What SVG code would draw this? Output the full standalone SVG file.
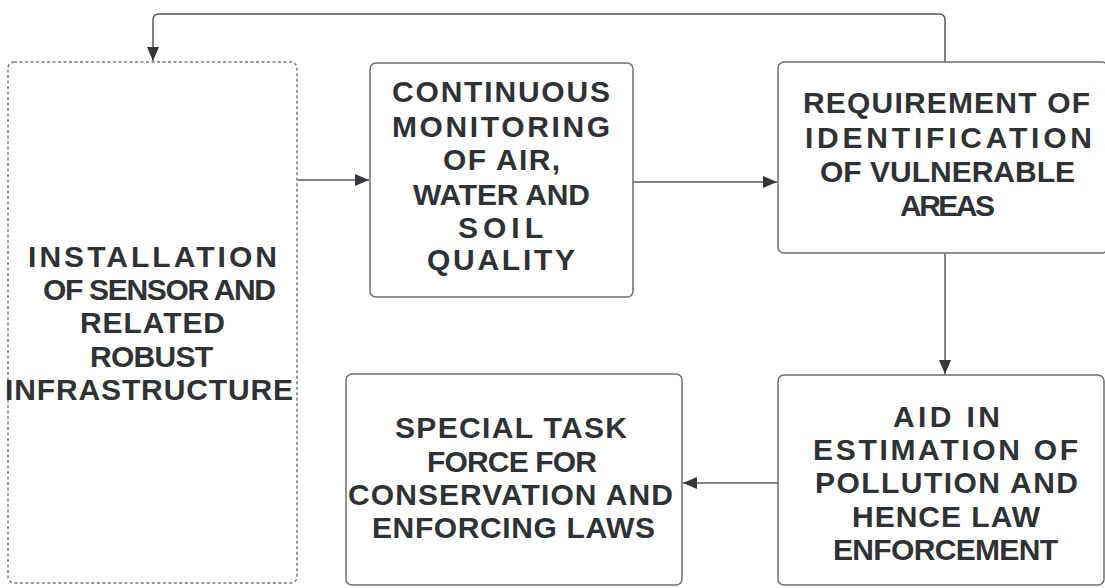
<svg xmlns="http://www.w3.org/2000/svg" width="1105" height="588" viewBox="0 0 1105 588">
<style>
.box{fill:#fff;stroke:#6e6e6e;stroke-width:1.5}
.dash{fill:#fff;stroke:#7a7a7a;stroke-width:1.5;stroke-dasharray:3 2.5}
.lbl{font-family:"Liberation Sans",Arial,sans-serif;font-size:30px;font-weight:bold;fill:#2f3235;text-anchor:middle}
.con{fill:none;stroke:#5a5a5a;stroke-width:1.5}
</style>
<defs>
<marker id="ah" viewBox="0 0 14 12" refX="14" refY="6" markerWidth="14" markerHeight="12" markerUnits="userSpaceOnUse" orient="auto">
<path d="M0,0 L14,6 L0,12 Z" fill="#33363a"/>
</marker>
</defs>
<rect width="1105" height="588" fill="#fff"/>
<g id="connectors">
<path class="con" d="M945,62 V20 Q945,14 939,14 H159 Q153,14 153,20 V61" marker-end="url(#ah)"/>
<path class="con" d="M298,180 H369" marker-end="url(#ah)"/>
<path class="con" d="M633,182 H777" marker-end="url(#ah)"/>
<path class="con" d="M945,253 V374" marker-end="url(#ah)"/>
<path class="con" d="M778,483 H683" marker-end="url(#ah)"/>
</g>
<g id="node1">
<rect class="dash" x="8" y="62" width="289" height="521" rx="6"/>
<text class="lbl" x="152.5" y="267" textLength="249" lengthAdjust="spacing">INSTALLATION</text>
<text class="lbl" x="159.5" y="300" textLength="233" lengthAdjust="spacing">OF SENSOR AND</text>
<text class="lbl" x="152.5" y="333" textLength="145" lengthAdjust="spacing">RELATED</text>
<text class="lbl" x="151.5" y="367" textLength="123" lengthAdjust="spacing">ROBUST</text>
<text class="lbl" x="149" y="400" textLength="288" lengthAdjust="spacing">INFRASTRUCTURE</text>
</g>
<g id="node2">
<rect class="box" x="370" y="63" width="263" height="234" rx="6"/>
<text class="lbl" x="501" y="102" textLength="218" lengthAdjust="spacing">CONTINUOUS</text>
<text class="lbl" x="501" y="137" textLength="218" lengthAdjust="spacing">MONITORING</text>
<text class="lbl" x="501.5" y="170" textLength="117" lengthAdjust="spacing">OF AIR,</text>
<text class="lbl" x="501.5" y="205" textLength="177" lengthAdjust="spacing">WATER AND</text>
<text class="lbl" x="500.5" y="238" textLength="85" lengthAdjust="spacing">SOIL</text>
<text class="lbl" x="501" y="270" textLength="148" lengthAdjust="spacing">QUALITY</text>
</g>
<g id="node3">
<rect class="box" x="778" y="62" width="330" height="191" rx="6"/>
<text class="lbl" x="946.5" y="113" textLength="287" lengthAdjust="spacing">REQUIREMENT OF</text>
<text class="lbl" x="948.5" y="148" textLength="287" lengthAdjust="spacing">IDENTIFICATION</text>
<text class="lbl" x="947.5" y="182" textLength="255" lengthAdjust="spacing">OF VULNERABLE</text>
<text class="lbl" x="947.5" y="216" textLength="95" lengthAdjust="spacing">AREAS</text>
</g>
<g id="node4">
<rect class="box" x="778" y="375" width="326" height="210" rx="6"/>
<text class="lbl" x="946.5" y="427" textLength="107" lengthAdjust="spacing">AID IN</text>
<text class="lbl" x="945.5" y="460" textLength="265" lengthAdjust="spacing">ESTIMATION OF</text>
<text class="lbl" x="946.5" y="493" textLength="263" lengthAdjust="spacing">POLLUTION AND</text>
<text class="lbl" x="946" y="527" textLength="188" lengthAdjust="spacing">HENCE LAW</text>
<text class="lbl" x="945.5" y="560" textLength="225" lengthAdjust="spacing">ENFORCEMENT</text>
</g>
<g id="node5">
<rect class="box" x="346" y="374" width="336" height="211" rx="6"/>
<text class="lbl" x="511" y="438" textLength="232" lengthAdjust="spacing">SPECIAL TASK</text>
<text class="lbl" x="512" y="472" textLength="170" lengthAdjust="spacing">FORCE FOR</text>
<text class="lbl" x="510.5" y="505" textLength="325" lengthAdjust="spacing">CONSERVATION AND</text>
<text class="lbl" x="513.5" y="538" textLength="283" lengthAdjust="spacing">ENFORCING LAWS</text>
</g>
</svg>
